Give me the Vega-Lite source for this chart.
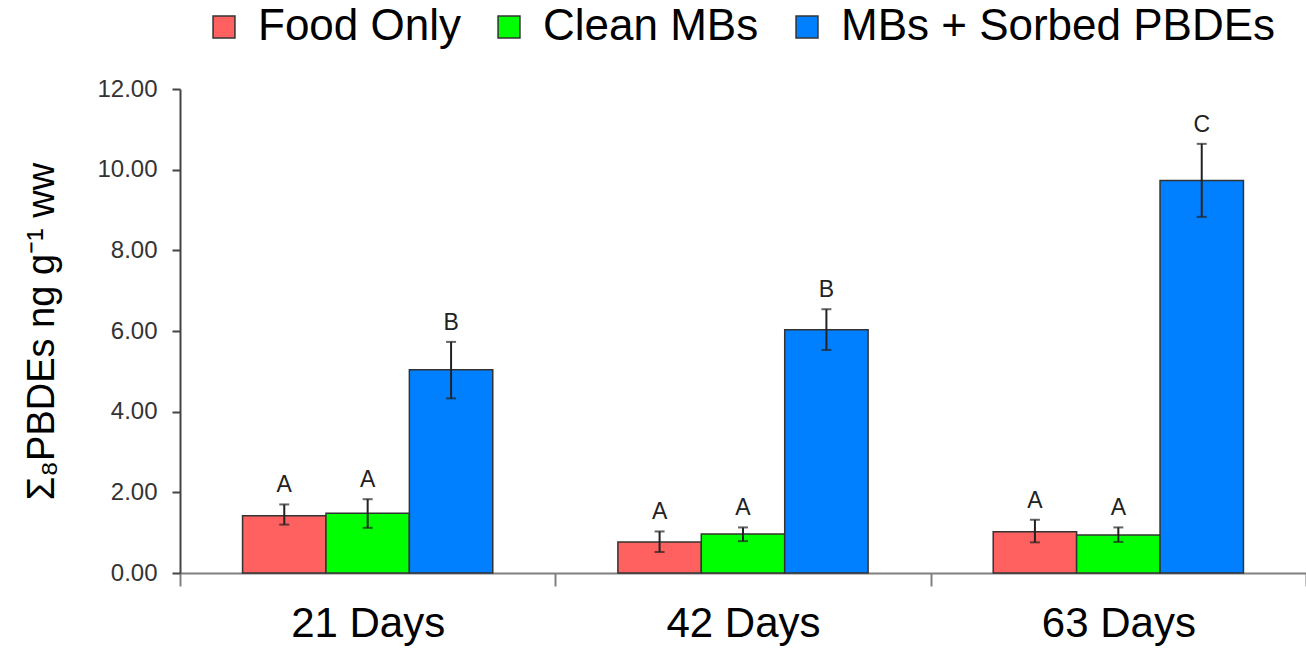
{
  "$schema": "https://vega.github.io/schema/vega-lite/v6.json",
  "width": 1126,
  "height": 484,
  "autosize": {"type": "none"},
  "padding": {"left": 180, "top": 89, "right": 0, "bottom": 77},
  "background": "white",
  "config": {
    "view": {"stroke": null},
    "font": "Liberation Sans"
  },
  "data": {
    "values": [
      {"day": "21 Days", "group": "Food Only", "value": 1.42, "lower": 1.20, "upper": 1.70, "letter": "A"},
      {"day": "21 Days", "group": "Clean MBs", "value": 1.48, "lower": 1.12, "upper": 1.83, "letter": "A"},
      {"day": "21 Days", "group": "MBs + Sorbed PBDEs", "value": 5.04, "lower": 4.33, "upper": 5.73, "letter": "B"},
      {"day": "42 Days", "group": "Food Only", "value": 0.77, "lower": 0.52, "upper": 1.03, "letter": "A"},
      {"day": "42 Days", "group": "Clean MBs", "value": 0.97, "lower": 0.79, "upper": 1.13, "letter": "A"},
      {"day": "42 Days", "group": "MBs + Sorbed PBDEs", "value": 6.03, "lower": 5.53, "upper": 6.54, "letter": "B"},
      {"day": "63 Days", "group": "Food Only", "value": 1.02, "lower": 0.76, "upper": 1.32, "letter": "A"},
      {"day": "63 Days", "group": "Clean MBs", "value": 0.94, "lower": 0.77, "upper": 1.13, "letter": "A"},
      {"day": "63 Days", "group": "MBs + Sorbed PBDEs", "value": 9.73, "lower": 8.83, "upper": 10.64, "letter": "C"}
    ]
  },
  "encoding": {
    "x": {
      "field": "day",
      "type": "nominal",
      "sort": ["21 Days", "42 Days", "63 Days"],
      "scale": {"paddingInner": 0, "paddingOuter": 0},
      "axis": {
        "title": null,
        "labelAngle": 0,
        "tickBand": "extent",
        "tickSize": 13,
        "tickWidth": 2,
        "tickColor": "#808080",
        "domainColor": "#808080",
        "domainWidth": 2,
        "labelFontSize": 42,
        "labelFont": "Liberation Sans",
        "labelColor": "#000000",
        "labelPadding": 17
      }
    },
    "xOffset": {
      "field": "group",
      "type": "nominal",
      "sort": ["Food Only", "Clean MBs", "MBs + Sorbed PBDEs"],
      "scale": {"paddingOuter": 0.75, "paddingInner": 0}
    }
  },
  "layer": [
    {
      "mark": {"type": "bar", "stroke": "#333333", "strokeWidth": 1.5},
      "encoding": {
        "y": {
          "field": "value",
          "type": "quantitative",
          "scale": {"domain": [0, 12], "nice": false},
          "axis": {
            "values": [0, 2, 4, 6, 8, 10, 12],
            "format": ".2f",
            "grid": false,
            "tickSize": 8,
            "tickWidth": 2,
            "tickColor": "#444444",
            "domainColor": "#444444",
            "domainWidth": 2,
            "labelFontSize": 24,
            "labelFont": "Liberation Sans",
            "labelColor": "#333333",
            "labelPadding": 15,
            "title": "Σ₈PBDEs ng g⁻¹ ww",
            "titleFont": "Liberation Sans",
            "titleFontSize": 38,
            "titleFontWeight": "normal",
            "titleColor": "#000000",
            "titleAngle": 270,
            "titleX": -138,
            "titleY": 242,
            "titleAlign": "center",
            "titleBaseline": "middle"
          }
        },
        "color": {
          "field": "group",
          "type": "nominal",
          "sort": ["Food Only", "Clean MBs", "MBs + Sorbed PBDEs"],
          "scale": {
            "domain": ["Food Only", "Clean MBs", "MBs + Sorbed PBDEs"],
            "range": ["#ff6060", "#00ff00", "#0080ff"]
          },
          "legend": {
            "title": null,
            "orient": "none",
            "direction": "horizontal",
            "legendX": 22,
            "legendY": -84,
            "symbolType": "square",
            "symbolSize": 480,
            "symbolStrokeColor": "#333333",
            "symbolStrokeWidth": 1.5,
            "symbolOpacity": 1,
            "labelFontSize": 44,
            "labelFont": "Liberation Sans",
            "labelColor": "#000000",
            "labelOffset": 12,
            "columnPadding": 26,
            "labelLimit": 600
          }
        }
      }
    },
    {
      "mark": {"type": "rule", "color": "#222222", "strokeWidth": 2},
      "encoding": {
        "y": {"field": "lower", "type": "quantitative"},
        "y2": {"field": "upper"}
      }
    },
    {
      "mark": {"type": "tick", "color": "#222222", "size": 10, "thickness": 2},
      "encoding": {
        "y": {"field": "upper", "type": "quantitative"}
      }
    },
    {
      "mark": {"type": "tick", "color": "#222222", "size": 10, "thickness": 2},
      "encoding": {
        "y": {"field": "lower", "type": "quantitative"}
      }
    },
    {
      "mark": {"type": "text", "fontSize": 23, "font": "Liberation Sans", "color": "#222222", "baseline": "alphabetic", "dy": -12},
      "encoding": {
        "y": {"field": "upper", "type": "quantitative"},
        "text": {"field": "letter"}
      }
    }
  ]
}
